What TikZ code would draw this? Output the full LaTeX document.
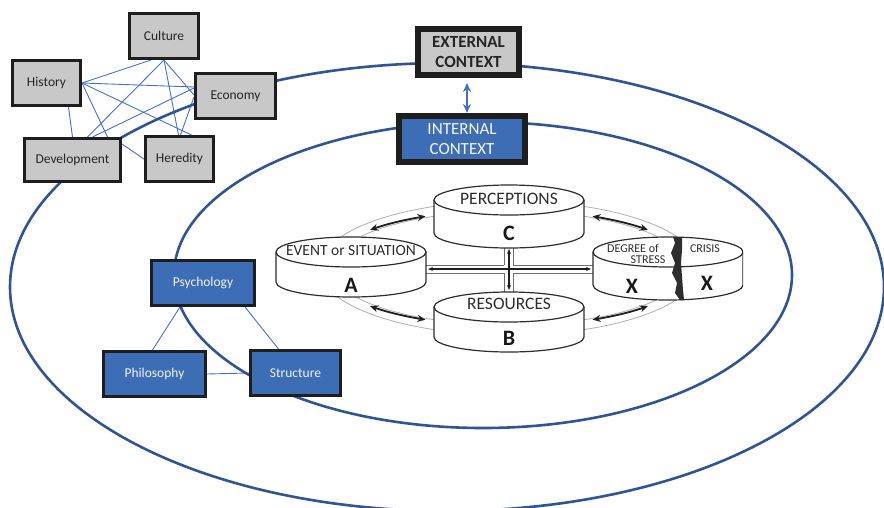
\documentclass[tikz,border=0pt]{standalone}
\usepackage{fontspec}
\setmainfont{Carlito}
\usetikzlibrary{arrows.meta,backgrounds}

\definecolor{ringblue}{HTML}{2F5597}
\definecolor{linkblue}{HTML}{4472C4}
\definecolor{boxblue}{HTML}{3D6DB5}
\definecolor{boxgray}{HTML}{C8C8C8}
\definecolor{boxedge}{HTML}{1E1E1E}
\definecolor{boxtext}{HTML}{262626}
\definecolor{bandgray}{HTML}{AFAFAF}
\definecolor{channelgray}{HTML}{6E6E6E}
\definecolor{drumink}{HTML}{2E2E2E}

% a drum: centre x, top-ellipse centre y, x radius, y radius, body height
\newcommand\drum[5]{%
  \fill[white] (#1-#3,#2) -- (#1-#3,#2+#5)
    arc[start angle=180,end angle=0,x radius=#3,y radius=#4] -- (#1+#3,#2) -- cycle;
  \draw[drumline] (#1-#3,#2) -- (#1-#3,#2+#5)
    arc[start angle=180,end angle=0,x radius=#3,y radius=#4] -- (#1+#3,#2);
  \filldraw[drumline,fill=white] (#1,#2) ellipse [x radius=#3,y radius=#4];
}

\tikzset{
  ringline/.style={draw=ringblue,line width=2.6pt},
  netlink/.style={draw=linkblue,line width=0.9pt},
  graybox/.style={draw=boxedge,line width=3pt,fill=boxgray,text=boxtext,
    font=\fontsize{13.5}{16}\selectfont,minimum height=45pt,inner sep=0pt},
  bluebox/.style={draw=boxedge,line width=3pt,fill=boxblue,text=white!95!black,
    font=\fontsize{13.5}{16}\selectfont,minimum height=45pt,inner sep=0pt},
  ctxbox/.style={draw=boxedge,line width=6pt,minimum height=46pt,align=center,
    inner sep=0pt,font=\fontsize{17}{20.5}\selectfont},
  ctxarrow/.style={draw=linkblue,line width=2pt,
    {Stealth[length=9pt,width=8pt]}-{Stealth[length=9pt,width=8pt]}},
  bandline/.style={draw=bandgray,line width=0.8pt},
  channel/.style={draw=channelgray,line width=0.7pt},
  drumline/.style={draw=drumink,line width=1.2pt},
  swingarrow/.style={draw=black!88,line width=1.8pt,
    {Stealth[length=8pt,width=7pt]}-{Stealth[length=8pt,width=7pt]}},
  crossarrow/.style={draw=black!88,line width=1.2pt,
    {Stealth[length=5pt,width=4pt]}-{Stealth[length=5pt,width=4pt]}},
  drumtext/.style={text=drumink,inner sep=0pt,font=\fontsize{17.5}{19}\selectfont},
  drumsmall/.style={text=drumink,inner sep=0pt,font=\fontsize{12}{12}\selectfont},
  drumletter/.style={text=black!90,inner sep=0pt,font=\fontsize{22}{22}\selectfont\bfseries},
}

\begin{document}
\begin{tikzpicture}[x=1pt,y=-1pt]
\useasboundingbox (0,0) rectangle (884,507);
\begin{pgfonlayer}{background}
  \fill[white] (0,0) rectangle (884,507);
\end{pgfonlayer}

% outer and inner context rings
\draw[ringline] (447,287) ellipse [x radius=437,y radius=224];
\draw[ringline] (483,275) ellipse [x radius=309,y radius=153];

% external influences
\node[graybox,minimum width=69pt] (culture) at (164,36) {Culture};
\node[graybox,minimum width=68pt] (history) at (46.5,83) {History};
\node[graybox,minimum width=80pt] (economy) at (235.5,96) {Economy};
\node[graybox,minimum width=96pt,minimum height=43pt] (development) at (72.5,160) {Development};
\node[graybox,minimum width=68pt] (heredity) at (179.5,159) {Heredity};

\begin{pgfonlayer}{background}
  \draw[netlink] (history.east) -- ([xshift=-13pt]culture.south);
  \draw[netlink] (history.east) -- ([yshift=9pt]economy.west);
  \draw[netlink] (history.east) -- ([xshift=12pt]heredity.north);
  \draw[netlink] (history.east) -- ([xshift=35pt]development.north);
  \draw[netlink] ([xshift=22pt]history.south) -- (development.north);
  \draw[netlink] (culture.south) -- ([xshift=15pt]development.north);
  \draw[netlink] (culture.south) -- ([xshift=-1pt]heredity.north);
  \draw[netlink] (culture.south) -- ([yshift=1pt]economy.west);
  \draw[netlink] ([yshift=8pt]economy.west) -- ([xshift=20pt]development.north);
  \draw[netlink] ([yshift=-1pt]economy.west) -- ([xshift=1pt]heredity.north);
  \draw[netlink] ([yshift=16pt]development.east) -- (heredity.west);
\end{pgfonlayer}

% context boxes
\node[ctxbox,fill=boxgray,text=boxtext,font=\fontsize{17}{20.5}\selectfont\bfseries,
  minimum width=101pt] (external) at (468.5,52) {EXTERNAL\\CONTEXT};
\node[ctxbox,fill=boxblue,text=white!96!black,minimum width=126pt]
  (internal) at (462,139) {INTERNAL\\CONTEXT};
\draw[ctxarrow] ([xshift=-1.5pt,yshift=-5pt]external.south) -- ([xshift=5pt]internal.north);

% ABCX model: orbit band and its arrows
\draw[bandline] (509,268) ellipse [x radius=190,y radius=67];
\draw[bandline] (509,268) ellipse [x radius=178,y radius=57];
\draw[swingarrow] ([shift={(221:184 and 58)}]509,268) arc[start angle=221,end angle=243,x radius=184,y radius=58];
\draw[swingarrow] ([shift={(297:184 and 58)}]509,268) arc[start angle=297,end angle=319,x radius=184,y radius=58];
\draw[swingarrow] ([shift={(139:184 and 58)}]509,268) arc[start angle=139,end angle=117,x radius=184,y radius=58];
\draw[swingarrow] ([shift={(63:184 and 58)}]509,268) arc[start angle=63,end angle=41,x radius=184,y radius=58];

% cross-shaped channel between the drums
\draw[channel] (426,265) -- (504,265) (513,265) -- (593,265)
               (426,273) -- (504,273) (513,273) -- (593,273)
               (504,246) -- (504,265) (513,246) -- (513,265)
               (504,273) -- (504,294) (513,273) -- (513,294);
\draw[crossarrow] (428,269) -- (591,269);
\draw[crossarrow] (509,249) -- (509,290);

% drums
\drum{509}{200}{75}{15}{33}
\drum{509}{307}{75}{15}{30}
\drum{351}{252}{75}{15}{30}
\begin{scope}
  \clip (580,225) rectangle (743,310);
  \drum{668}{252}{75}{15}{33}
\end{scope}
\fill[drumink] (673,237) -- (675,243) -- (671,253) -- (675,263) -- (672,273)
  -- (677,283) -- (675,293) -- (680,300) -- (684,300) -- (683,290)
  -- (681,263) -- (682,250) -- (682,237) -- cycle;

\node[drumtext] (perceptions) at (509,199) {PERCEPTIONS};
\node[drumletter] (letterc) at (509,233) {C};
\node[drumtext] (resources) at (509,304) {RESOURCES};
\node[drumletter] (letterb) at (509,338) {B};
\node[drumtext,font=\fontsize{15.5}{17}\selectfont] (event) at (351,251) {EVENT or SITUATION};
\node[drumletter] (lettera) at (351,285) {A};
\node[drumsmall] (degree) at (633,248) {DEGREE of};
\node[drumsmall] (stress) at (648,260) {STRESS};
\node[drumsmall] (crisis) at (705,249) {CRISIS};
\node[drumletter] (letterx) at (632,286) {X};
\node[drumletter] (lettery) at (707,283) {X};

% internal influences
\node[bluebox,minimum width=103pt] (psychology) at (203,283) {Psychology};
\node[bluebox,minimum width=102pt] (philosophy) at (154.5,374) {Philosophy};
\node[bluebox,minimum width=90pt] (structure) at (295.5,373) {Structure};

\begin{pgfonlayer}{background}
  \draw[netlink] ([xshift=-23pt]psychology.south) -- ([xshift=-2pt]philosophy.north);
  \draw[netlink] ([xshift=42pt]psychology.south) -- ([xshift=-17pt]structure.north);
  \draw[netlink] (philosophy.east) -- (structure.west);
\end{pgfonlayer}
\end{tikzpicture}
\end{document}
